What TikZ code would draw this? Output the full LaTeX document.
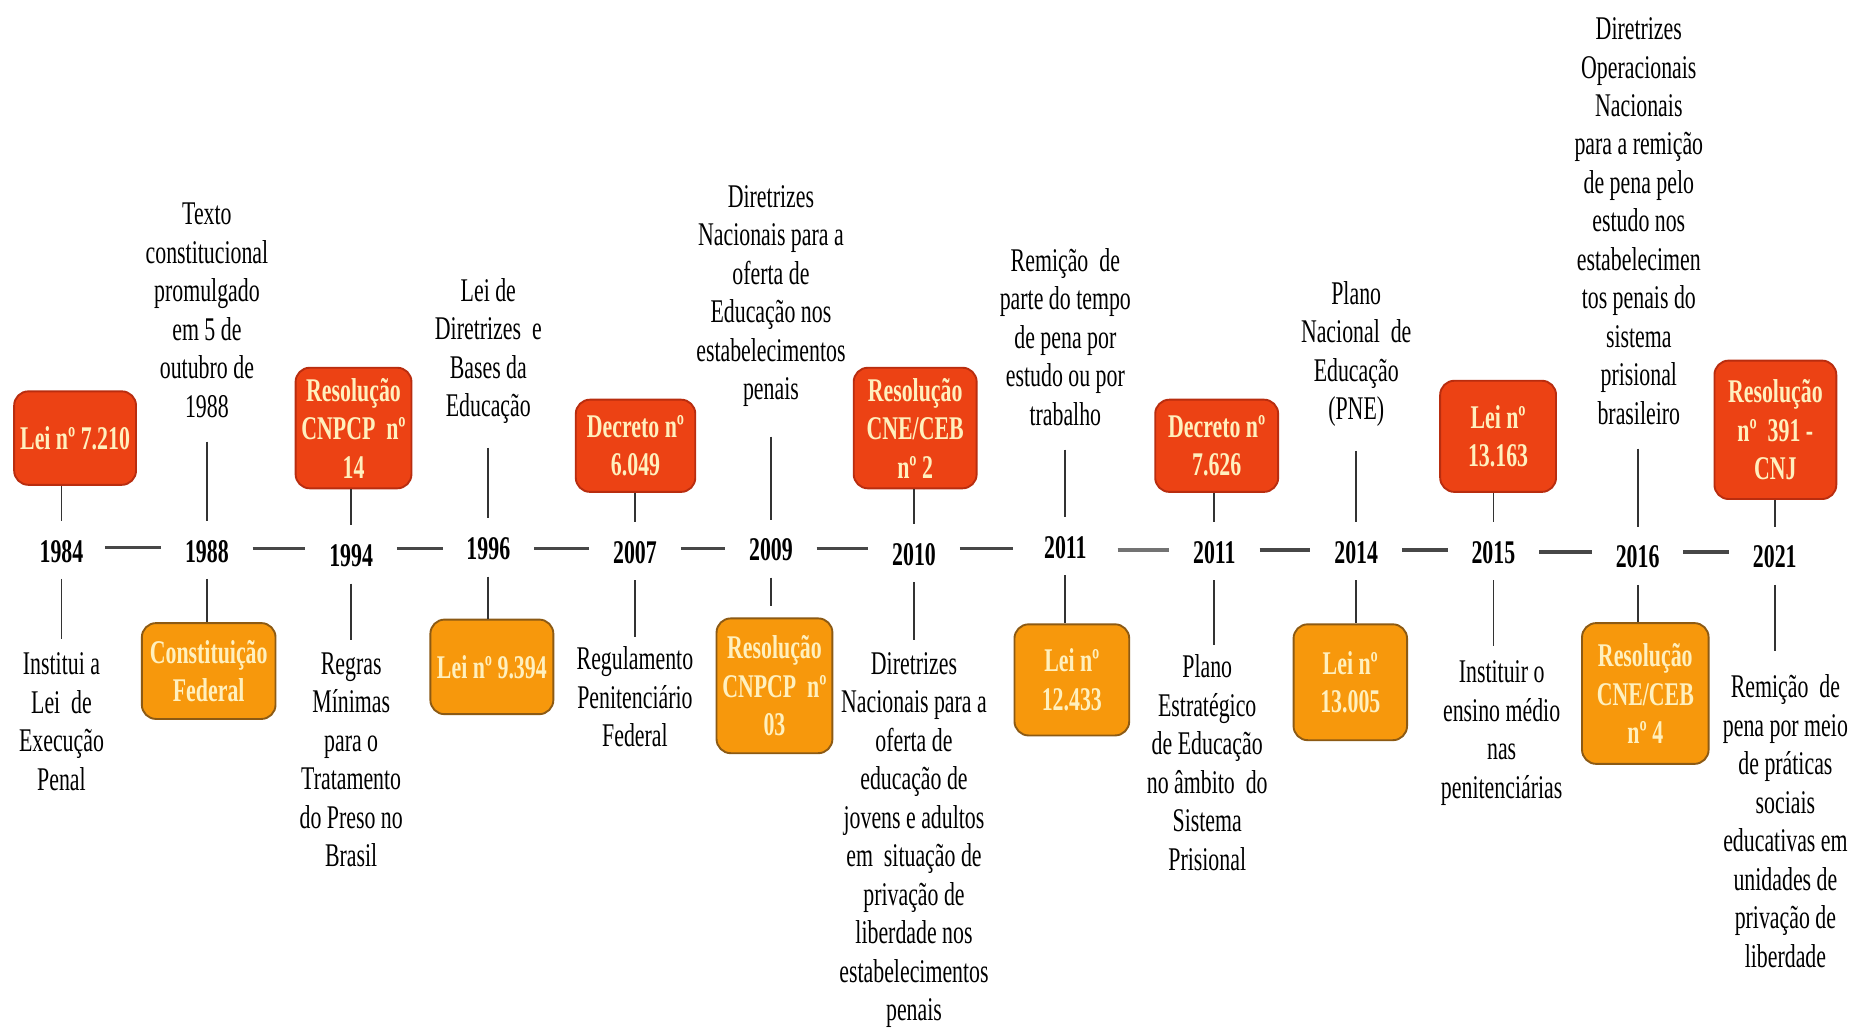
\documentclass[tikz,border=0pt]{standalone}
\usepackage{fontspec}
\setmainfont[FakeStretch=0.66]{Liberation Serif}
\usetikzlibrary{calc}
\definecolor{redbox}{RGB}{236,66,20}
\definecolor{redborder}{RGB}{185,45,15}
\definecolor{orbox}{RGB}{247,152,12}
\definecolor{orborder}{RGB}{140,90,20}
\definecolor{boxtext}{RGB}{255,240,190}
\begin{document}
\begin{tikzpicture}[x=0.75pt,y=-0.75pt,
 every node/.style={font=\fontsize{21}{24.4}\selectfont},
 txt/.style={align=center, inner sep=0pt},
 yr/.style={font=\fontsize{21}{24.4}\selectfont\bfseries, inner sep=0pt, text height=14pt, text depth=0pt},
 boxbase/.style={rounded corners=9pt, line width=1.2pt, align=center, inner sep=0pt, text=boxtext, font=\fontsize{21}{24.4}\selectfont\bfseries},
 redb/.style={boxbase, fill=redbox, draw=redborder},
 orb/.style={boxbase, fill=orbox, draw=orborder},
 vl/.style={draw=black!80, line width=1.1pt},
 hl/.style={draw=black!72, line width=2.2pt},
]
\fill[white] (0,0) rectangle (1568,869);
\useasboundingbox (0,0) rectangle (1568,869);

% years
\node[yr] (y1984) at (52,466) {1984};
\node[yr] (y1988) at (175,466) {1988};
\node[yr] (y1994) at (297,470) {1994};
\node[yr] (y1996) at (413,464) {1996};
\node[yr] (y2007) at (537,467) {2007};
\node[yr] (y2009) at (652,465) {2009};
\node[yr] (y2010) at (773,469) {2010};
\node[yr] (y2011a) at (901,463) {2011};
\node[yr] (y2011b) at (1027,467) {2011};
\node[yr] (y2014) at (1147,467) {2014};
\node[yr] (y2015) at (1263,467) {2015};
\node[yr] (y2016) at (1385,471) {2016};
\node[yr] (y2021) at (1501,471) {2021};

% red boxes (above)
\node[redb, minimum width=77.3pt, minimum height=59.3pt] (b1984) at (63.5,370.5) {Lei nº 7.210};
\node[redb, minimum width=73.5pt, minimum height=76.5pt] (b1994) at (299,362) {Resolução\\CNPCP~ nº\\14};
\node[redb, minimum width=75.8pt, minimum height=58.5pt] (b2007) at (537.5,377) {Decreto nº\\6.049};
\node[redb, minimum width=78pt, minimum height=76.5pt] (b2010) at (774,362) {Resolução\\CNE/CEB\\nº 2};
\node[redb, minimum width=78pt, minimum height=58.5pt] (b2011b) at (1029,377) {Decreto nº\\7.626};
\node[redb, minimum width=73.5pt, minimum height=70.5pt] (b2015) at (1267,369) {Lei nº\\13.163};
\node[redb, minimum width=77.3pt, minimum height=87.8pt] (b2021) at (1501.5,363.5) {Resolução\\nº~ 391 -\\CNJ};

% orange boxes (below)
\node[orb, minimum width=84.8pt, minimum height=60.8pt] (b1988) at (176.5,567.5) {Constituição\\Federal};
\node[orb, minimum width=78pt, minimum height=60pt] (b1996) at (416,564) {Lei nº 9.394};
\node[orb, minimum width=73.5pt, minimum height=85.5pt] (b2009) at (655,580) {Resolução\\CNPCP~ nº\\03};
\node[orb, minimum width=72.8pt, minimum height=70.5pt] (b2011a) at (906.5,575) {Lei nº\\12.433};
\node[orb, minimum width=72pt, minimum height=73.5pt] (b2014) at (1142,577) {Lei nº\\13.005};
\node[orb, minimum width=80.3pt, minimum height=89.3pt] (b2016) at (1391.5,586.5) {Resolução\\CNE/CEB\\nº 4};

% texts above
\node[txt] (t1988) at (175,262.5) {Texto\\constitucional\\promulgado\\em 5 de\\outubro de\\1988};
\node[txt] (t1996) at (413,297) {Lei de\\Diretrizes~ e\\Bases da\\Educação};
\node[txt] (t2009) at (652,250.5) {Diretrizes\\Nacionais para a\\oferta de\\Educação nos\\estabelecimentos\\penais};
\node[txt] (t2011a) at (901,285) {Remição~ de\\parte do tempo\\de pena por\\estudo ou por\\trabalho};
\node[txt] (t2014) at (1147,299.5) {Plano\\Nacional~ de\\Educação\\(PNE)};
\node[txt] (t2016) at (1386,187) {Diretrizes\\Operacionais\\Nacionais\\para a remição\\de pena pelo\\estudo nos\\estabelecimen\\tos penais do\\sistema\\prisional\\brasileiro};

% texts below
\node[txt] (t1984) at (52,610.5) {Institui a\\Lei~ de\\Execução\\Penal};
\node[txt] (t1994) at (297,642.5) {Regras\\Mínimas\\para o\\Tratamento\\do Preso no\\Brasil};
\node[txt] (t2007) at (537,589.5) {Regulamento\\Penitenciário\\Federal};
\node[txt] (t2010) at (773,710.5) {Diretrizes\\Nacionais para a\\oferta de\\educação de\\jovens e adultos\\em~ situação de\\privação de\\liberdade nos\\estabelecimentos\\penais};
\node[txt] (t2011b) at (1021,645) {Plano\\Estratégico\\de Educação\\no âmbito~ do\\Sistema\\Prisional};
\node[txt] (t2015) at (1270,620) {Instituir o\\ensino médio\\nas\\penitenciárias};
\node[txt] (t2021) at (1510,694.5) {Remição~ de\\pena por meio\\de práticas\\sociais\\educativas em\\unidades de\\privação de\\liberdade};

% vertical connectors above the years
\draw[vl] (b1984.south -| y1984) -- ($(y1984.north)+(0,-16)$);
\draw[vl] ($(t1988.south -| y1988)+(0,20)$) -- ($(y1988.north)+(0,-16)$);
\draw[vl] (b1994.south -| y1994) -- ($(y1994.north)+(0,-16)$);
\draw[vl] ($(t1996.south -| y1996)+(0,20)$) -- ($(y1996.north)+(0,-16)$);
\draw[vl] (b2007.south -| y2007) -- ($(y2007.north)+(0,-16)$);
\draw[vl] ($(t2009.south -| y2009)+(0,25)$) -- ($(y2009.north)+(0,-16)$);
\draw[vl] (b2010.south -| y2010) -- ($(y2010.north)+(0,-16)$);
\draw[vl] ($(t2011a.south -| y2011a)+(0,20)$) -- ($(y2011a.north)+(0,-16)$);
\draw[vl] (b2011b.south -| y2011b) -- ($(y2011b.north)+(0,-16)$);
\draw[vl] ($(t2014.south -| y2014)+(0,20)$) -- ($(y2014.north)+(0,-16)$);
\draw[vl] (b2015.south -| y2015) -- ($(y2015.north)+(0,-16)$);
\draw[vl] ($(t2016.south -| y2016)+(0,20)$) -- ($(y2016.north)+(0,-16)$);
\draw[vl] (b2021.south -| y2021) -- ($(y2021.north)+(0,-16)$);

% vertical connectors below the years
\draw[vl] ($(y1984.south)+(0,14)$) -- ($(t1984.north -| y1984)+(0,-12)$);
\draw[vl] ($(y1988.south)+(0,14)$) -- (b1988.north -| y1988);
\draw[vl] ($(y1994.south)+(0,14)$) -- ($(t1994.north -| y1994)+(0,-10)$);
\draw[vl] ($(y1996.south)+(0,14)$) -- (b1996.north -| y1996);
\draw[vl] ($(y2007.south)+(0,14)$) -- ($(t2007.north -| y2007)+(0,-8)$);
\draw[vl] ($(y2009.south)+(0,14)$) -- ($(b2009.north -| y2009)+(0,-10)$);
\draw[vl] ($(y2010.south)+(0,14)$) -- ($(t2010.north -| y2010)+(0,-10)$);
\draw[vl] ($(y2011a.south)+(0,14)$) -- (b2011a.north -| y2011a);
\draw[vl] ($(y2011b.south)+(0,14)$) -- ($(t2011b.north -| y2011b)+(0,-8)$);
\draw[vl] ($(y2014.south)+(0,14)$) -- (b2014.north -| y2014);
\draw[vl] ($(y2015.south)+(0,14)$) -- ($(t2015.north -| y2015)+(0,-12)$);
\draw[vl] ($(y2016.south)+(0,14)$) -- (b2016.north -| y2016);
\draw[vl] ($(y2021.south)+(0,14)$) -- ($(t2021.north -| y2021)+(0,-20)$);

% horizontal dashes between years (kept level)
\draw[hl] ($(y1984.east)+(18,-3)$) -- ($(y1988.west |- y1984.east)+(-20,-3)$);
\draw[hl] ($(y1988.east)+(20,-2)$) -- ($(y1994.west |- y1988.east)+(-20,-2)$);
\draw[hl] ($(y1994.east)+(20,-6)$) -- ($(y1996.west |- y1994.east)+(-20,-6)$);
\draw[hl] ($(y1996.east)+(20,0)$) -- ($(y2007.west |- y1996.east)+(-20,0)$);
\draw[hl] ($(y2007.east)+(20,-3)$) -- ($(y2009.west |- y2007.east)+(-20,-3)$);
\draw[hl] ($(y2009.east)+(20,-1)$) -- ($(y2010.west |- y2009.east)+(-20,-1)$);
\draw[hl] ($(y2010.east)+(20,-5)$) -- ($(y2011a.west |- y2010.east)+(-26,-5)$);
\draw[hl, draw=black!55] ($(y2011a.east)+(26,2)$) -- ($(y2011b.west |- y2011a.east)+(-20,2)$);
\draw[hl] ($(y2011b.east)+(20,-2)$) -- ($(y2014.west |- y2011b.east)+(-20,-2)$);
\draw[hl] ($(y2014.east)+(20,-2)$) -- ($(y2015.west |- y2014.east)+(-20,-2)$);
\draw[hl] ($(y2015.east)+(20,0)$) -- ($(y2016.west |- y2015.east)+(-20,0)$);
\draw[hl] ($(y2016.east)+(20,-4)$) -- ($(y2021.west |- y2016.east)+(-20,-4)$);
\end{tikzpicture}
\end{document}
